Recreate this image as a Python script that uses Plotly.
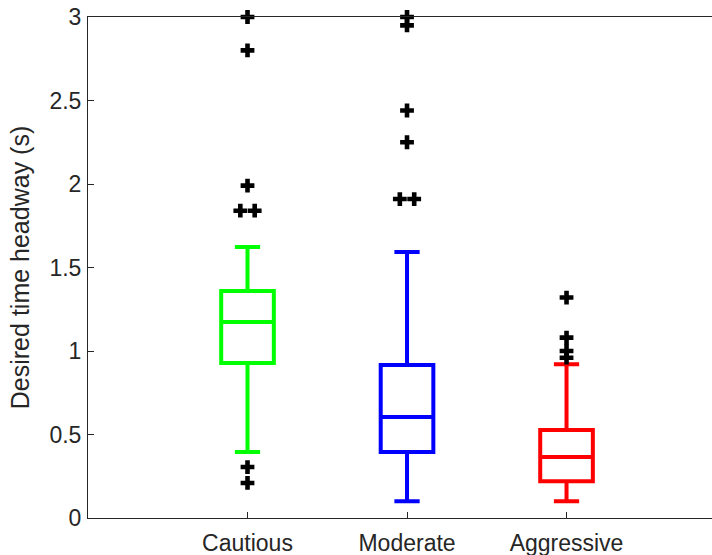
import plotly.graph_objects as go

categories = ["Cautious", "Moderate", "Aggressive"]
colors = ["#00FF00", "#0000FF", "#FF0000"]

q1 = [0.928, 0.395, 0.22]
median = [1.174, 0.605, 0.365]
q3 = [1.359, 0.916, 0.527]
lower_whisker = [0.395, 0.10, 0.10]
upper_whisker = [1.623, 1.593, 0.92]

# outliers: (group index 1..3, value, small horizontal offset in category units)
outlier_group = [1, 1, 1, 1, 1, 1, 1,
                 2, 2, 2, 2, 2, 2,
                 3, 3, 3, 3]
outlier_value = [3.0, 2.80, 1.99, 1.84, 1.84, 0.305, 0.21,
                 3.0, 2.95, 2.44, 2.25, 1.91, 1.91,
                 1.32, 1.08, 1.00, 0.96]
outlier_offset = [0, 0, 0, -0.045, 0.045, 0, 0,
                  0, 0, 0, 0, -0.045, 0.045,
                  0, 0, 0, 0]

FONT = "Arial, Liberation Sans, sans-serif"
AXC = "#262626"

fig = go.Figure()
for i, cat in enumerate(categories):
    fig.add_trace(go.Box(
        x=[i + 1], q1=[q1[i]], median=[median[i]], q3=[q3[i]],
        lowerfence=[lower_whisker[i]], upperfence=[upper_whisker[i]],
        width=0.33, whiskerwidth=0.48,
        line=dict(color=colors[i], width=4),
        fillcolor="rgba(255,255,255,0)",
        boxpoints=False, showlegend=False, name=cat,
    ))

fig.add_trace(go.Scatter(
    x=[g + o for g, o in zip(outlier_group, outlier_offset)],
    y=outlier_value, mode="markers",
    marker=dict(symbol="cross", size=11.5, color="black"),
    cliponaxis=False, showlegend=False,
))

fig.update_layout(
    width=712, height=555,
    margin=dict(l=88, r=0, t=17, b=37),
    paper_bgcolor="white", plot_bgcolor="white",
    font=dict(family=FONT, size=23, color=AXC),
    xaxis=dict(
        range=[0, 3.912], tickvals=[1, 2, 3], ticktext=categories,
        showline=True, linecolor=AXC, linewidth=1, mirror=True,
        ticks="inside", ticklen=6, tickcolor=AXC,
        showgrid=False, zeroline=False, automargin=False,
        tickfont=dict(size=23), ticklabelstandoff=4,
    ),
    yaxis=dict(
        range=[0, 3], tickvals=[0, 0.5, 1, 1.5, 2, 2.5, 3],
        ticktext=["0", "0.5", "1", "1.5", "2", "2.5", "3"],
        showline=True, linecolor=AXC, linewidth=1,
        ticks="inside", ticklen=6, tickcolor=AXC,
        showgrid=False, zeroline=False, automargin=False,
        tickfont=dict(size=23), ticklabelstandoff=1,
        ticklabeloverflow="allow",
        title=dict(text="Desired time headway (s)", standoff=12, font=dict(size=25)),
    ),
)

fig.write_html("out.html", config={"displayModeBar": False},
               post_script="document.body.style.margin='0px';")
